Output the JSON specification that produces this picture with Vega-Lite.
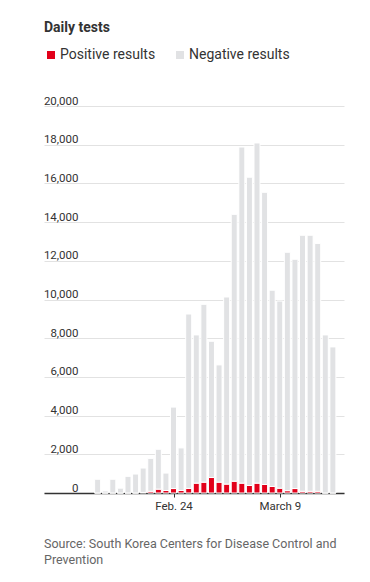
{
  "$schema": "https://vega.github.io/schema/vega-lite/v6.json",
  "width": 300,
  "height": 387,
  "autosize": {"type": "none"},
  "padding": {"left": 44, "top": 106, "right": 26, "bottom": 89},
  "background": "white",
  "title": {
    "text": ["Source: South Korea Centers for Disease Control and", "Prevention"],
    "orient": "bottom",
    "anchor": "start",
    "frame": "group",
    "font": "Roboto",
    "fontSize": 12.5,
    "fontWeight": "normal",
    "color": "#666666",
    "lineHeight": 16.7,
    "offset": 26
  },
  "data": {
    "values": [
      {"date": "2020-02-14", "positive": 0, "negative": 710},
      {"date": "2020-02-15", "positive": 0, "negative": 110},
      {"date": "2020-02-16", "positive": 0, "negative": 710},
      {"date": "2020-02-17", "positive": 0, "negative": 250},
      {"date": "2020-02-18", "positive": 0, "negative": 860},
      {"date": "2020-02-19", "positive": 0, "negative": 980},
      {"date": "2020-02-20", "positive": 30, "negative": 1260},
      {"date": "2020-02-21", "positive": 90, "negative": 1700},
      {"date": "2020-02-22", "positive": 200, "negative": 2060},
      {"date": "2020-02-23", "positive": 130, "negative": 900},
      {"date": "2020-02-24", "positive": 230, "negative": 4210},
      {"date": "2020-02-25", "positive": 130, "negative": 2200},
      {"date": "2020-02-26", "positive": 240, "negative": 9010},
      {"date": "2020-02-27", "positive": 510, "negative": 7660},
      {"date": "2020-02-28", "positive": 560, "negative": 9190},
      {"date": "2020-02-29", "positive": 800, "negative": 7040},
      {"date": "2020-03-01", "positive": 560, "negative": 6060},
      {"date": "2020-03-02", "positive": 460, "negative": 9670},
      {"date": "2020-03-03", "positive": 610, "negative": 13790},
      {"date": "2020-03-04", "positive": 510, "negative": 17370},
      {"date": "2020-03-05", "positive": 390, "negative": 15930},
      {"date": "2020-03-06", "positive": 510, "negative": 17580},
      {"date": "2020-03-07", "positive": 440, "negative": 15100},
      {"date": "2020-03-08", "positive": 340, "negative": 10140},
      {"date": "2020-03-09", "positive": 250, "negative": 9670},
      {"date": "2020-03-10", "positive": 120, "negative": 12320},
      {"date": "2020-03-11", "positive": 230, "negative": 11850},
      {"date": "2020-03-12", "positive": 90, "negative": 13230},
      {"date": "2020-03-13", "positive": 90, "negative": 13230},
      {"date": "2020-03-14", "positive": 90, "negative": 12810},
      {"date": "2020-03-15", "positive": 0, "negative": 8170},
      {"date": "2020-03-16", "positive": 0, "negative": 7550}
    ]
  },
  "transform": [
    {"fold": ["positive", "negative"], "as": ["type", "value"]}
  ],
  "mark": {"type": "bar", "stroke": "white", "strokeWidth": 1, "width": 6},
  "encoding": {
    "x": {
      "field": "date",
      "type": "temporal",
      "scale": {
        "domain": [
          {"year": 2020, "month": 2, "date": 7, "hours": 14, "minutes": 10, "utc": true},
          {"year": 2020, "month": 3, "date": 16, "hours": 19, "minutes": 21, "utc": true}
        ],
        "nice": false
      },
      "axis": {
        "title": null,
        "values": [
          {"year": 2020, "month": 2, "date": 24, "utc": true},
          {"year": 2020, "month": 3, "date": 9, "utc": true}
        ],
        "labelExpr": "utcmonth(datum.value) == 1 ? 'Feb. 24' : 'March 9'",
        "labelAngle": 0,
        "labelFont": "Roboto",
        "labelFontSize": 11.5,
        "labelColor": "#333333",
        "labelPadding": 3,
        "labelFlush": false,
        "labelOverlap": false,
        "domain": true,
        "domainColor": "#333333",
        "domainWidth": 1.3,
        "ticks": true,
        "tickColor": "#333333",
        "tickSize": 4,
        "grid": false
      }
    },
    "y": {
      "field": "value",
      "type": "quantitative",
      "stack": "zero",
      "scale": {"domain": [0, 20000], "nice": false},
      "axis": {
        "title": null,
        "values": [0, 2000, 4000, 6000, 8000, 10000, 12000, 14000, 16000, 18000, 20000],
        "format": ",d",
        "domain": false,
        "ticks": false,
        "grid": true,
        "gridColor": "#e2e2e2",
        "gridWidth": 1,
        "labelAlign": "right",
        "labelBaseline": "alphabetic",
        "labelPadding": -34,
        "labelOffset": -2,
        "labelFont": "Roboto",
        "labelFontSize": 11.5,
        "labelColor": "#333333"
      }
    },
    "color": {
      "field": "type",
      "type": "nominal",
      "scale": {"domain": ["positive", "negative"], "range": ["#e2001a", "#e1e2e4"]},
      "legend": {
        "title": "Daily tests",
        "orient": "none",
        "legendX": 0,
        "legendY": -85,
        "direction": "horizontal",
        "padding": 0,
        "offset": 0,
        "titleFont": "Roboto",
        "titleFontSize": 14,
        "titleFontWeight": "bold",
        "titleColor": "#333333",
        "titlePadding": 13,
        "titleAnchor": "start",
        "symbolType": "square",
        "symbolSize": 64,
        "symbolStrokeWidth": 0,
        "labelFont": "Roboto",
        "labelFontSize": 14,
        "labelColor": "#333333",
        "labelOffset": 2,
        "columnPadding": 17,
        "labelExpr": "datum.label == 'positive' ? 'Positive results' : 'Negative results'"
      }
    },
    "order": {"field": "type", "sort": "descending"}
  },
  "config": {
    "view": {"stroke": null},
    "font": "Roboto"
  }
}
